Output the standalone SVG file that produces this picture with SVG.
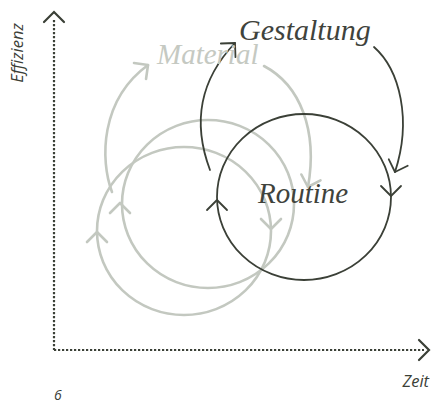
<svg xmlns="http://www.w3.org/2000/svg" width="432" height="405" viewBox="0 0 432 405">
<style>
.gray{fill:none;stroke:#c3c8c0;stroke-width:2.6;stroke-linecap:round;stroke-linejoin:round}
.dark{fill:none;stroke:#3b4037;stroke-width:1.8;stroke-linecap:round;stroke-linejoin:round}
.axis{fill:none;stroke:#3b4037;stroke-width:2.2;stroke-dasharray:2.2 1.8}
.axhead{fill:none;stroke:#3b4037;stroke-width:2.2;stroke-linecap:round;stroke-linejoin:miter}
.lbl{font-family:"Open Sans","DejaVu Sans",sans-serif;font-style:italic;font-size:16.5px;fill:#3b4037}
.hand{font-family:"Liberation Serif","DejaVu Serif",serif;font-style:italic;font-size:29px}
</style>
<defs>
<path id="chev" d="M-10,10 L0,0 L10,10"/>
</defs>
<g id="axes">
<line class="axis" x1="54" y1="20" x2="54" y2="350"/>
<line class="axis" x1="54" y1="350" x2="424" y2="350"/>
<use href="#chev" class="axhead" transform="translate(54,12)"/>
<use href="#chev" class="axhead" transform="translate(429,350) rotate(90)"/>
<text class="lbl" transform="translate(23,53) rotate(-90)" text-anchor="middle">Effizienz</text>
<text class="lbl" x="429" y="387" text-anchor="end">Zeit</text>
<text class="lbl" x="54" y="400" style="font-size:14px">6</text>
</g>
<g id="connectors">
<ellipse class="gray" cx="184" cy="231" rx="87" ry="84"/>
<ellipse class="gray" cx="208" cy="204" rx="86" ry="84"/>
<use href="#chev" class="gray" transform="translate(97,232)"/>
<use href="#chev" class="gray" transform="translate(271,229) rotate(180)"/>
<use href="#chev" class="gray" transform="translate(120,203)"/>
<path class="gray" d="M112,192 C100,160 100,100 148,65"/>
<use href="#chev" class="gray" transform="translate(148,65) rotate(53)"/>
<path class="gray" d="M264,66 C300,85 318,130 308,187"/>
<use href="#chev" class="gray" transform="translate(308,187) rotate(197)"/>
<ellipse class="dark" cx="304" cy="197" rx="87" ry="83"/>
<use href="#chev" class="dark" transform="translate(217,200)"/>
<use href="#chev" class="dark" transform="translate(391,196) rotate(180)"/>
<path class="dark" d="M210,170 C195,130 195,85 235,43"/>
<use href="#chev" class="dark" transform="translate(235,43) rotate(43)"/>
<path class="dark" d="M374,47 C400,70 412,120 395,172"/>
<use href="#chev" class="dark" transform="translate(395,172) rotate(199)"/>
</g>
<g id="material">
<text class="hand" x="157" y="64" fill="#c5c9c2">Material</text>
</g>
<g id="gestaltung">
<text class="hand" x="239" y="40" fill="#3f433c" style="font-size:30px">Gestaltung</text>
</g>
<g id="routine">
<text class="hand" x="258" y="203" fill="#3f433c">Routine</text>
</g>
</svg>
